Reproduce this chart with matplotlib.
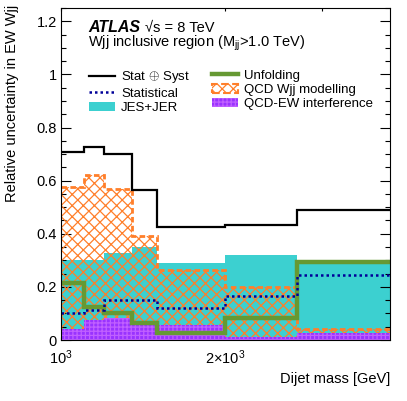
import matplotlib
matplotlib.use("Agg")
import matplotlib.pyplot as plt
from matplotlib.patches import Patch
from matplotlib.lines import Line2D
from matplotlib.ticker import FixedLocator, MultipleLocator, NullFormatter

plt.rcParams['font.family'] = ['Liberation Sans', 'DejaVu Sans']
plt.rcParams['mathtext.fontset'] = 'custom'
plt.rcParams['mathtext.rm'] = 'Liberation Sans'
plt.rcParams['mathtext.it'] = 'Liberation Sans:italic'
plt.rcParams['mathtext.bf'] = 'Liberation Sans:bold'
plt.rcParams['hatch.linewidth'] = 0.9

# ---- data ----
edges = [1000, 1100, 1200, 1350, 1500, 2000, 2700, 4000]
stat_syst = [0.707, 0.726, 0.701, 0.565, 0.427, 0.433, 0.489]
statistical = [0.103, 0.113, 0.151, 0.151, 0.122, 0.167, 0.245]
jes_jer = [0.300, 0.300, 0.328, 0.349, 0.289, 0.319, 0.285]
unfolding = [0.214, 0.126, 0.100, 0.065, 0.028, 0.082, 0.295]
qcd_wjj = [0.575, 0.622, 0.568, 0.390, 0.262, 0.201, 0.040]
interference = [0.040, 0.075, 0.082, 0.057, 0.057, 0.012, 0.025]

xtick_vals = [1000, 2000]
xtick_labels = [r'$10^{3}$', r'$2{\times}10^{3}$']
xminor_vals = [3000]

labels_col1 = [r'Stat $\oplus$ Syst', 'Statistical', 'JES+JER']
labels_col2 = ['Unfolding', 'QCD Wjj modelling', 'QCD-EW interference']

# ---- styles ----
c_cyan = '#3CD0D0'
c_orange = '#FF7F2A'
c_purple = '#9933FF'
c_green = '#669933'
c_blue = '#000099'

fig = plt.figure(figsize=(4.07, 4.01), dpi=100)
ax = fig.add_axes([61/407, 1-340/401, (390-61)/407, (340-8)/401])

ax.stairs(jes_jer, edges, fill=True, color=c_cyan, lw=0, zorder=1)
ax.stairs(qcd_wjj, edges, fill=True, facecolor='none', edgecolor=c_orange,
          hatch='xxx', lw=0, zorder=2)
ax.stairs(interference, edges, fill=True, facecolor=c_purple, edgecolor='#C060FF',
          hatch='++++', lw=0, zorder=3)
ax.stairs(qcd_wjj, edges, baseline=None, color=c_orange, lw=2.0,
          linestyle=(0, (2, 1.2)), zorder=4)
ax.stairs(unfolding, edges, baseline=None, color=c_green, lw=3.2, zorder=5)
ax.stairs(statistical, edges, baseline=None, color=c_blue, lw=1.8,
          linestyle=(0, (1, 1.2)), zorder=6)
ax.stairs(stat_syst, edges, baseline=None, color='black', lw=1.6, zorder=7)

ax.set_xscale('log')
ax.set_xlim(edges[0], edges[-1])
ax.set_ylim(0, 1.25)

ax.xaxis.set_major_locator(FixedLocator(xtick_vals))
ax.set_xticklabels(xtick_labels)
ax.xaxis.set_minor_locator(FixedLocator(xminor_vals))
ax.xaxis.set_minor_formatter(NullFormatter())
ax.yaxis.set_major_locator(MultipleLocator(0.2))
ax.yaxis.set_minor_locator(MultipleLocator(0.05))
ax.set_yticks([0, 0.2, 0.4, 0.6, 0.8, 1.0, 1.2])
ax.set_yticklabels(['0', '0.2', '0.4', '0.6', '0.8', '1', '1.2'])

ax.tick_params(axis='both', which='both', direction='in', top=True, right=True,
               labelsize=10.5, width=0.8)
ax.tick_params(axis='y', which='major', length=7.2, pad=3)
ax.tick_params(axis='y', which='minor', length=3.6)
ax.tick_params(axis='x', which='both', length=2.5, pad=6)
for s in ax.spines.values():
    s.set_linewidth(0.8)
    s.set_zorder(10)

ax.set_ylabel('Relative uncertainty in EW Wjj', fontsize=10.5, loc='top')
ax.yaxis.set_label_coords(-0.128, 1.01)
ax.set_xlabel('Dijet mass [GeV]', fontsize=10.5, loc='right')
ax.xaxis.set_label_coords(1.0, -0.095)

ax.text(0.082, 0.928, 'ATLAS', transform=ax.transAxes, fontsize=11.5,
        fontweight='bold', fontstyle='italic', va='baseline')
ax.text(0.256, 0.928, '√s = 8 TeV', transform=ax.transAxes, fontsize=10.5,
        va='baseline')
ax.text(0.082, 0.8825, r'Wjj inclusive region (M$_{\mathrm{jj}}$>1.0 TeV)',
        transform=ax.transAxes, fontsize=10.5, va='baseline')

h1 = [Line2D([], [], color='black', lw=1.6),
      Line2D([], [], color=c_blue, lw=1.8, linestyle=(0, (1, 1.2))),
      Patch(facecolor=c_cyan, lw=0)]
h2 = [Line2D([], [], color=c_green, lw=3.2),
      Patch(facecolor='none', edgecolor=c_orange, hatch='xxx', lw=1.5,
            linestyle='--'),
      Patch(facecolor=c_purple, edgecolor='#C060FF', hatch='++++', lw=0)]

kw = dict(loc='upper left', frameon=False, fontsize=9.5, borderpad=0,
          handlelength=2.0, handleheight=0.7, handletextpad=0.45,
          labelspacing=0.15, borderaxespad=0)
leg1 = ax.legend(h1, labels_col1, bbox_to_anchor=(0.085, 0.815), **kw)
ax.add_artist(leg1)
leg2 = ax.legend(h2, labels_col2, bbox_to_anchor=(0.459, 0.815), **kw)

fig.savefig('out.png', dpi=100)
